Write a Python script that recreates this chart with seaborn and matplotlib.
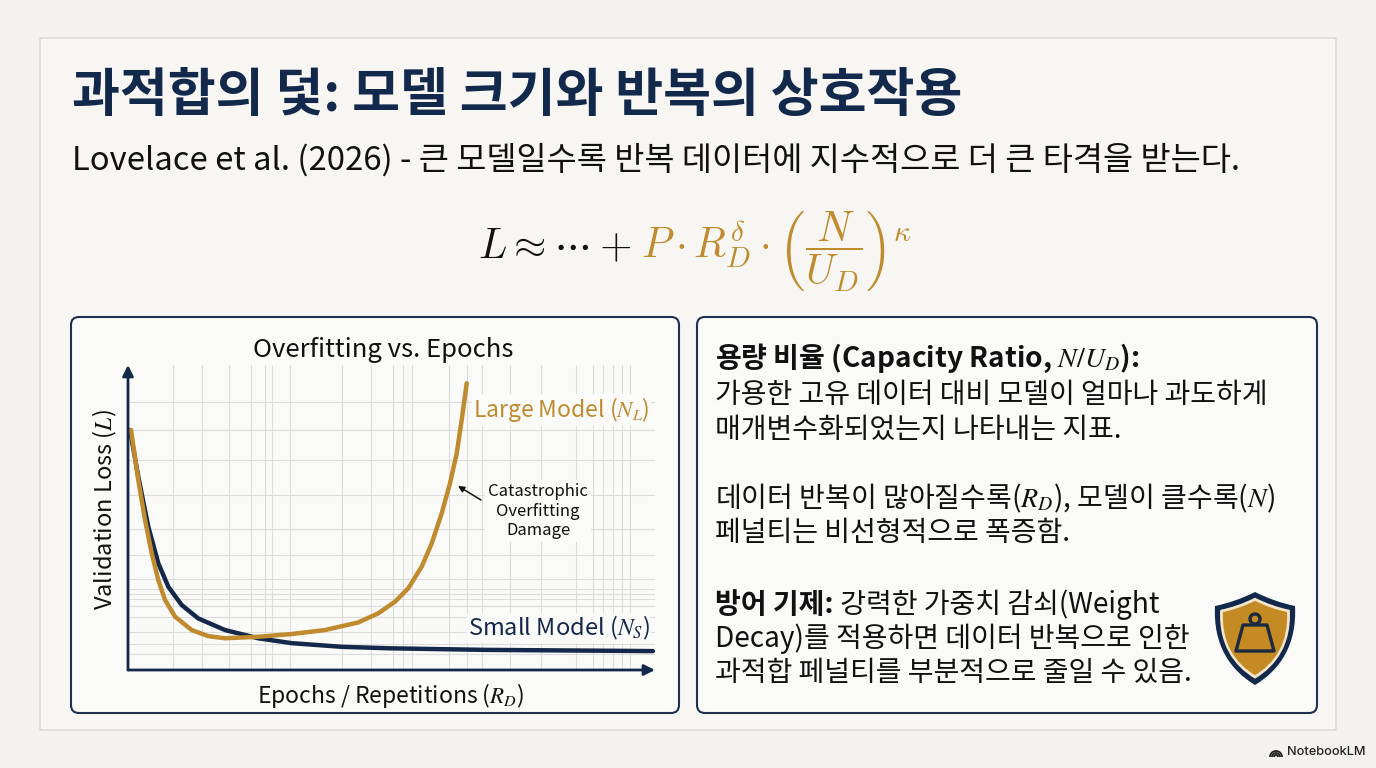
import numpy as np
import pandas as pd
import matplotlib
matplotlib.use("Agg")
import matplotlib.pyplot as plt
import seaborn as sns
from matplotlib.patches import FancyBboxPatch, Rectangle, PathPatch, Circle, Polygon, Arc
from matplotlib.path import Path

# ---- data (axis units 0-100 on both axes) ----
large_x = [0.57, 1.95, 3.23, 4.50, 5.75, 7.02, 8.92, 12.09, 15.24, 18.41, 24.72, 31.06,
           37.38, 43.70, 47.50, 50.66, 53.19, 55.73, 57.63, 59.53, 61.10, 62.37, 63.32, 64.27]
large_y = [78.7, 62.3, 49.2, 38.3, 29.5, 23.0, 17.5, 13.1, 11.1, 10.4, 10.9, 11.8,
           13.1, 15.6, 18.6, 22.4, 26.8, 33.9, 41.5, 51.4, 61.2, 71.0, 82.0, 94.0]
small_x = [0.38, 1.95, 3.85, 5.75, 7.65, 10.19, 13.34, 18.41, 24.72, 31.06, 40.55, 50.04,
           67.74, 99.6]
small_y = [78.7, 63.4, 47.0, 35.0, 27.3, 21.3, 16.9, 13.1, 10.4, 8.8, 7.6, 7.1,
           6.6, 6.2]

# irregular background grid of the sketch
grid_x = [8.5, 14.1, 19.2, 23.3, 26.0, 27.4, 30.7, 40.6, 46.1, 50.3, 52.2, 53.9, 60.9,
          64.3, 67.2, 72.5, 78.4, 85.0, 88.2, 90.1, 92.0, 93.7, 95.3]
grid_y = [5.2, 8.5, 12.5, 17.4, 21.0, 23.3, 24.9, 26.6, 29.8, 37.7, 46.2, 57.4, 68.9,
          78.7, 87.9]

title = "과적합의 덫: 모델 크기와 반복의 상호작용"
subtitle = "Lovelace et al. (2026) - 큰 모델일수록 반복 데이터에 지수적으로 더 큰 타격을 받는다."
chart_title = "Overfitting vs. Epochs"
x_label = "Epochs / Repetitions ($R_D$)"
y_label = "Validation Loss ($L$)"
large_label = "Large Model ($N_L$)"
small_label = "Small Model ($N_S$)"
note_label = "Catastrophic\nOverfitting\nDamage"

NAVY = "#14284B"
GOLD = "#C08A2E"
PANEL = "#FAFAF8"

sns.set_theme(style="white")
plt.rcParams["font.family"] = ["Noto Sans CJK KR", "DejaVu Sans"]

W, H = 1376, 768
fig = plt.figure(figsize=(W / 100, H / 100), dpi=100)
fig.patch.set_facecolor("#F3F2EE")

# background layer in pixel coordinates (y down)
bg = fig.add_axes([0, 0, 1, 1], zorder=0)
bg.set_xlim(0, W)
bg.set_ylim(H, 0)
bg.axis("off")
bg.add_patch(Rectangle((40, 38), 1296, 692, facecolor="#F7F6F3", edgecolor="#DDDCD8", lw=1.2))
for x0, w0 in [(71, 608), (697, 620)]:
    bg.add_patch(FancyBboxPatch((x0, 317), w0, 396, boxstyle="round,pad=0,rounding_size=8",
                                facecolor=PANEL, edgecolor="#1E3150", lw=1.5))


def fx(x):
    return x / W


def fy(y):
    return 1 - y / H


# ---- header ----
fig.text(fx(72), fy(95), title, fontsize=37.5, fontweight="bold", color="#13294B", va="center")
fig.text(fx(72), fy(160), subtitle, fontsize=23.6, color="#111111", va="center")

# formula in two colours
f1 = fig.text(fx(478), fy(258), r"$L \approx \cdots +$", fontsize=30, color="#111111",
              va="baseline", math_fontfamily="cm")
renderer = fig.canvas.get_renderer()
bb = f1.get_window_extent(renderer)
fig.text(fx(bb.x1 + 10), fy(258),
         r"$P \cdot R_D^{\delta} \cdot \left(\dfrac{N}{U_D}\right)^{\kappa}$",
         fontsize=30, color=GOLD, va="baseline", math_fontfamily="cm")

# ---- chart ----
ax = fig.add_axes([fx(128), fy(670), (655 - 128) / W, (670 - 365) / H], zorder=1)
ax.set_facecolor("none")
ax.set_xlim(0, 100)
ax.set_ylim(0, 100)
ax.set_xticks(grid_x)
ax.set_yticks(grid_y)
ax.tick_params(length=0, labelbottom=False, labelleft=False)
ax.grid(True, color="#DCDCDC", lw=0.8)
for s in ax.spines.values():
    s.set_visible(False)

sns.lineplot(x=small_x, y=small_y, ax=ax, color=NAVY, linewidth=3.2, sort=False,
             estimator=None, solid_capstyle="round", solid_joinstyle="round")
sns.lineplot(x=large_x, y=large_y, ax=ax, color=GOLD, linewidth=3.2, sort=False,
             estimator=None, solid_capstyle="round", solid_joinstyle="round")

arrow = dict(arrowstyle="-|>", color=NAVY, lw=2, mutation_scale=16, shrinkA=0, shrinkB=0)
ax.annotate("", xy=(1.0, 0), xytext=(0, 0), xycoords="axes fraction", arrowprops=arrow,
            annotation_clip=False)
ax.annotate("", xy=(0, 1.0), xytext=(0, 0), xycoords="axes fraction", arrowprops=arrow,
            annotation_clip=False)

fig.text(fx(383), fy(350), chart_title, fontsize=18.5, color="#111111", ha="center", va="center")
fig.text(fx(390), fy(695), x_label, fontsize=16.5, color="#111111", ha="center", va="center",
         math_fontfamily="stix")
fig.text(fx(105), fy(510), y_label, fontsize=17, color="#111111", ha="center", va="center",
         rotation=90, math_fontfamily="stix")
box = dict(facecolor=PANEL, edgecolor="none", pad=1)
fig.text(fx(473), fy(410), large_label, fontsize=16.5, color=GOLD, va="center",
         math_fontfamily="stix", bbox=box)
fig.text(fx(468), fy(628), small_label, fontsize=17, color=NAVY, va="center",
         math_fontfamily="stix", bbox=box)
fig.text(fx(538), fy(511), note_label, fontsize=12, color="#111111", ha="center",
         va="center", linespacing=1.2, bbox=dict(facecolor=PANEL, edgecolor="none", pad=2))
ax.annotate("", xy=(458, 486), xycoords=bg.transData, xytext=(481, 500),
            textcoords=bg.transData,
            arrowprops=dict(arrowstyle="-|>", color="#111111", lw=1.1, mutation_scale=9,
                            shrinkA=0, shrinkB=0))


# ---- right panel text ----
def draw_runs(x, y, runs, size=20.2):
    for s, kw in runs:
        t = fig.text(fx(x), fy(y), s, fontsize=size, va="baseline", ha="left",
                     color="#111111", math_fontfamily="stix", **kw)
        x += t.get_window_extent(renderer).width


B = {"fontweight": "bold"}
R = {}
draw_runs(715, 367, [("용량 비율 (Capacity Ratio, $N/U_D$):", B)])
draw_runs(715, 403, [("가용한 고유 데이터 대비 모델이 얼마나 과도하게", R)])
draw_runs(715, 438, [("매개변수화되었는지 나타내는 지표.", R)])
draw_runs(715, 507, [("데이터 반복이 많아질수록($R_D$), 모델이 클수록($N$)", R)])
draw_runs(715, 541, [("페널티는 비선형적으로 폭증함.", R)])
draw_runs(715, 613, [("방어 기제:", B), (" 강력한 가중치 감쇠(Weight", R)])
draw_runs(715, 647, [("Decay)를 적용하면 데이터 반복으로 인한", R)])
draw_runs(715, 681, [("과적합 페널티를 부분적으로 줄일 수 있음.", R)])


# ---- shield icon ----
def shield(scale, color):
    cx, cy = 1255, 636
    pts = [(1255, 592), (1275, 602), (1295, 606), (1297, 645), (1280, 670), (1255, 685),
           (1230, 670), (1213, 645), (1215, 606), (1235, 602), (1255, 592), (1255, 592)]
    codes = [Path.MOVETO, Path.CURVE3, Path.CURVE3, Path.CURVE4, Path.CURVE4, Path.CURVE4,
             Path.CURVE4, Path.CURVE4, Path.CURVE4, Path.CURVE3, Path.CURVE3, Path.CLOSEPOLY]
    pts = [(cx + (px - cx) * scale, cy + (py - cy) * scale) for px, py in pts]
    bg.add_patch(PathPatch(Path(pts, codes), facecolor=color, edgecolor="none"))


shield(1.0, "#13294B")
shield(0.87, "#F3E6CC")
shield(0.80, "#C48A23")
bg.add_patch(Circle((1255, 619), 5, facecolor="none", edgecolor="#1B2A40", lw=2.4))
bg.add_patch(Polygon([(1243, 625), (1267, 625), (1274, 651), (1236, 651)], closed=True,
                     facecolor="none", edgecolor="#1B2A40", lw=2.4, joinstyle="round"))

# ---- NotebookLM mark ----
for r in (2, 4, 6):
    bg.add_patch(Arc((1276, 757), 2 * r, 2 * r, theta1=180, theta2=360, color="#222222", lw=1.3))
fig.text(fx(1366), fy(752), "NotebookLM", fontsize=9.2, color="#222222", ha="right",
         va="center", family=["Inter", "DejaVu Sans"], fontweight="medium")

fig.savefig("out.png", dpi=100)
